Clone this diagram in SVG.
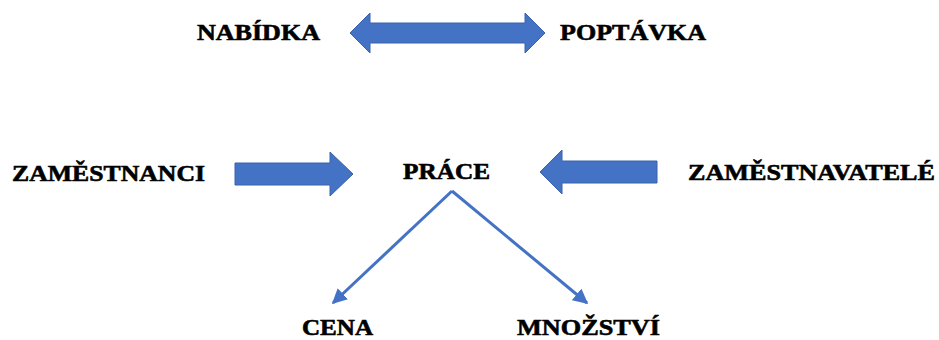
<svg xmlns="http://www.w3.org/2000/svg" width="939" height="340" viewBox="0 0 939 340">
<style>
.t{font-family:"Liberation Serif","Times New Roman",serif;font-weight:bold;font-size:23px;fill:#000;stroke:#000;stroke-width:0.6}
.blk{fill:#4472C4;stroke:#3A62AA;stroke-width:1}
.ln{fill:none;stroke:#4472C4;stroke-width:3}
</style>
<defs>
<marker id="ah" viewBox="0 0 10 10" refX="9" refY="5" markerWidth="15" markerHeight="15" markerUnits="userSpaceOnUse" orient="auto">
<path d="M0,0 L10,5 L0,10 z" fill="#4472C4"/>
</marker>
</defs>
<rect width="939" height="340" fill="#fff"/>
<g id="nabidka"><text class="t" x="197" y="40" textLength="123" lengthAdjust="spacingAndGlyphs">NABÍDKA</text></g>
<g id="poptavka"><text class="t" x="560" y="40" textLength="146" lengthAdjust="spacingAndGlyphs">POPTÁVKA</text></g>
<g id="zamestnanci"><text class="t" x="12" y="181" textLength="193" lengthAdjust="spacingAndGlyphs">ZAMĚSTNANCI</text></g>
<g id="prace"><text class="t" x="403" y="179" textLength="87" lengthAdjust="spacingAndGlyphs">PRÁCE</text></g>
<g id="zamestnavatele"><text class="t" x="688" y="180" textLength="247" lengthAdjust="spacingAndGlyphs">ZAMĚSTNAVATELÉ</text></g>
<g id="cena"><text class="t" x="302" y="335" textLength="71" lengthAdjust="spacingAndGlyphs">CENA</text></g>
<g id="mnozstvi"><text class="t" x="517" y="335" textLength="143" lengthAdjust="spacingAndGlyphs">MNOŽSTVÍ</text></g>
<g id="connectors">
<path class="blk" d="M350,33 L370,13 L370,23 L525,23 L525,13 L545,33 L525,53 L525,43 L370,43 L370,53 Z"/>
<path class="blk" d="M235,163 L330,163 L330,152 L353,174 L330,196 L330,185 L235,185 Z"/>
<path class="blk" d="M540,172 L562,150 L562,161 L657,161 L657,183 L562,183 L562,194 Z"/>
<path class="ln" d="M452,191 L333,303" marker-end="url(#ah)"/>
<path class="ln" d="M452,191 L587,303" marker-end="url(#ah)"/>
</g>
</svg>
